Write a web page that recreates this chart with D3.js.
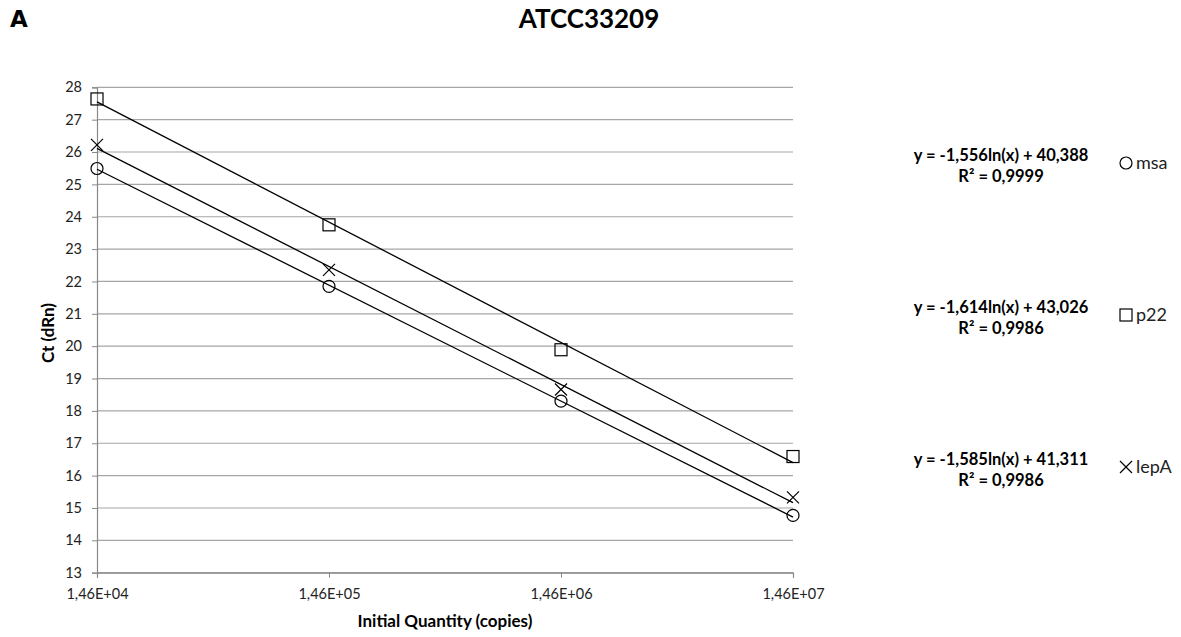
<!DOCTYPE html>
<html>
<head>
<meta charset="utf-8">
<script src="https://cdn.jsdelivr.net/npm/d3@7"></script>
<style>
  body { margin: 0; background: #fff; }
  svg { font-family: Lato, "Open Sans", sans-serif; }
</style>
</head>
<body>
<div id="chart"></div>
<script>
  // data uit de grafiek
  var quantities = [1.46e4, 1.46e5, 1.46e6, 1.46e7];
  var tickLabels = ['1,46E+04', '1,46E+05', '1,46E+06', '1,46E+07'];
  var seriesNames = ['msa', 'p22', 'lepA'];
  var msaCt = [25.49, 21.85, 18.30, 14.77];
  var p22Ct = [27.64, 23.75, 19.89, 16.59];
  var lepACt = [26.22, 22.36, 18.66, 15.33];
  // trendlijnen: y = a ln(x) + b
  var slopes = [-1.556, -1.614, -1.585];
  var intercepts = [40.388, 43.026, 41.311];
  var equations = ['y = -1,556ln(x) + 40,388', 'y = -1,614ln(x) + 43,026', 'y = -1,585ln(x) + 41,311'];
  var rSquared = ['R² = 0,9999', 'R² = 0,9986', 'R² = 0,9986'];
  var yTicks = d3.range(13, 29);

  var allCt = [msaCt, p22Ct, lepACt];

  var width = 1181, height = 637;
  var margin = {top: 87.3, left: 97, right: 388, bottom: 64.3};
  var plotW = width - margin.left - margin.right;
  var plotH = height - margin.top - margin.bottom;

  var svg = d3.select('#chart').append('svg')
    .attr('width', width)
    .attr('height', height);

  var g = svg.append('g')
    .attr('transform', 'translate(' + margin.left + ',' + margin.top + ')');

  var xScale = d3.scaleLog().domain([1.46e4, 1.46e7]).range([0, plotW]);
  var yScale = d3.scaleLinear().domain([13, 28]).range([plotH, 0]);

  // horizontale gridlijnen
  g.selectAll('.grid')
    .data(yTicks)
    .enter().append('line')
    .attr('x1', 0).attr('x2', plotW)
    .attr('y1', function(d){ return yScale(d); })
    .attr('y2', function(d){ return yScale(d); })
    .attr('stroke', '#a6a6a6')
    .attr('stroke-width', 1.2);

  // y-as
  var yAxis = d3.axisLeft(yScale).tickValues(yTicks).tickSize(5).tickPadding(10);
  var yg = g.append('g').call(yAxis);
  yg.select('.domain').attr('stroke', '#888').attr('stroke-width', 1.2);
  yg.selectAll('.tick line').attr('stroke', '#888');
  yg.selectAll('text').attr('font-size', 14.5).attr('fill', '#222').attr('font-family', 'Lato, sans-serif');

  // x-as
  var xAxis = d3.axisBottom(xScale).tickValues(quantities).tickSize(5).tickPadding(11)
    .tickFormat(function(d, i){ return tickLabels[i]; });
  var xg = g.append('g').attr('transform', 'translate(0,' + plotH + ')').call(xAxis);
  xg.select('.domain').attr('stroke', '#888').attr('stroke-width', 1.2);
  xg.selectAll('.tick line').attr('stroke', '#888');
  xg.selectAll('text').attr('font-size', 14.5).attr('fill', '#222').attr('font-family', 'Lato, sans-serif');

  // trendlijnen
  slopes.forEach(function(a, i){
    var x0 = quantities[0], x1 = quantities[quantities.length - 1];
    g.append('line')
      .attr('x1', xScale(x0)).attr('y1', yScale(a * Math.log(x0) + intercepts[i]))
      .attr('x2', xScale(x1)).attr('y2', yScale(a * Math.log(x1) + intercepts[i]))
      .attr('stroke', '#000')
      .attr('stroke-width', 1.3);
  });

  // markers tekenen
  function drawMarker(sel, type, size){
    if (type === 0) {
      sel.append('circle').attr('r', size).attr('fill', 'none').attr('stroke', '#000').attr('stroke-width', 1.2);
    } else if (type === 1) {
      sel.append('rect').attr('x', -size).attr('y', -size).attr('width', size * 2).attr('height', size * 2)
        .attr('fill', 'none').attr('stroke', '#000').attr('stroke-width', 1.2);
    } else {
      sel.append('path').attr('d', 'M' + (-size) + ',' + (-size) + 'L' + size + ',' + size + 'M' + (-size) + ',' + size + 'L' + size + ',' + (-size))
        .attr('stroke', '#000').attr('stroke-width', 1.2);
    }
  }

  allCt.forEach(function(vals, s){
    g.selectAll('.pt' + s)
      .data(vals)
      .enter().append('g')
      .attr('transform', function(d, i){ return 'translate(' + xScale(quantities[i]) + ',' + yScale(d) + ')'; })
      .each(function(){ drawMarker(d3.select(this), s, 6); });
  });

  // legenda met vergelijkingen
  var legendY = [163, 315, 467];
  seriesNames.forEach(function(name, i){
    var ly = legendY[i];
    svg.append('text').attr('x', 1001).attr('y', ly - 2).attr('text-anchor', 'middle')
      .attr('font-size', 16.5).attr('font-weight', 'bold').text(equations[i]);
    svg.append('text').attr('x', 1001).attr('y', ly + 19).attr('text-anchor', 'middle')
      .attr('font-size', 16.5).attr('font-weight', 'bold').text(rSquared[i]);
    var mk = svg.append('g').attr('transform', 'translate(' + 1126 + ',' + ly + ')');
    drawMarker(mk, i, 6);
    svg.append('text').attr('x', 1136).attr('y', ly + 6).attr('font-size', 18).attr('fill', '#222').text(name);
  });

  // titels
  svg.append('text').attr('x', 589).attr('y', 28).attr('text-anchor', 'middle')
    .attr('font-size', 26).attr('font-weight', 'bold').text('ATCC33209');

  svg.append('text').attr('x', 10).attr('y', 27)
    .attr('font-family', 'Verdana, "DejaVu Sans", sans-serif')
    .attr('font-size', 23).attr('font-weight', 'bold').text('A');

  svg.append('text').attr('x', 445).attr('y', 627).attr('text-anchor', 'middle')
    .attr('font-size', 17).attr('font-weight', 'bold').text('Initial Quantity (copies)');

  svg.append('text')
    .attr('transform', 'translate(54,333) rotate(-90)')
    .attr('text-anchor', 'middle')
    .attr('font-size', 17).attr('font-weight', 'bold').text('Ct (dRn)');
</script>
</body>
</html>
